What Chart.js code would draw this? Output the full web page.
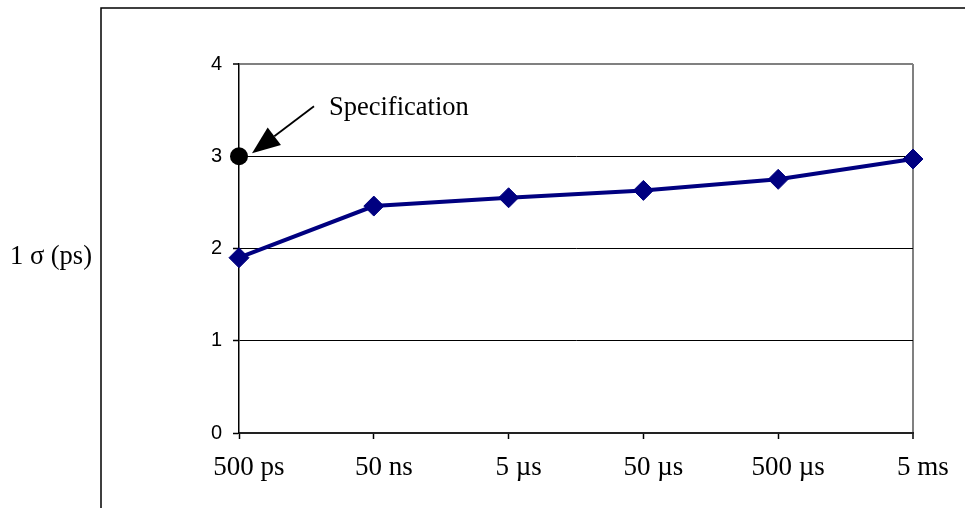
<!DOCTYPE html>
<html>
<head>
<meta charset="utf-8">
<script src="https://cdn.jsdelivr.net/npm/chart.js@4/dist/chart.umd.min.js"></script>
<style>
  html, body { margin: 0; padding: 0; background: #fff; }
  #wrap { width: 965px; height: 508px; position: relative; }
</style>
</head>
<body>
<div id="wrap"><canvas id="chart"></canvas></div>
<script>
const categories = ["500 ps", "50 ns", "5 \u00b5s", "50 \u00b5s", "500 \u00b5s", "5 ms"];
const sigmaValues = [1.9, 2.46, 2.55, 2.63, 2.75, 2.97];
const specValues = [3, null, null, null, null, null];
const specLabel = "Specification";
const yTitle = "1 \u03c3 (ps)";

const serif = '"Liberation Serif", "Times New Roman", serif';
const sans = '"Liberation Sans", Arial, sans-serif';

// frame lines, y title, and the arrow pointing at the spec point
const decorations = {
  id: "decorations",
  beforeDraw(chart) {
    const ctx = chart.ctx;
    ctx.save();
    ctx.strokeStyle = "#000";
    ctx.lineWidth = 1.5;
    ctx.beginPath();
    ctx.moveTo(chart.width, 8);
    ctx.lineTo(101, 8);
    ctx.lineTo(101, chart.height);
    ctx.stroke();

    const y = chart.scales.y;
    ctx.fillStyle = "#000";
    ctx.font = "26.5px " + serif;
    ctx.textAlign = "center";
    ctx.textBaseline = "middle";
    ctx.fillText(yTitle, 51, (y.top + y.bottom) / 2 + 9);
    ctx.restore();
  },
  afterDatasetsDraw(chart) {
    const pt = chart.getDatasetMeta(1).data[0];
    if (!pt) return;
    const ctx = chart.ctx;
    const tipX = pt.x + 13, tipY = pt.y - 3;
    const tailX = pt.x + 75, tailY = pt.y - 50;
    const ang = Math.atan2(tipY - tailY, tipX - tailX);
    const headLen = 28, headW = 11;
    const baseX = tipX - headLen * Math.cos(ang);
    const baseY = tipY - headLen * Math.sin(ang);
    ctx.save();
    ctx.strokeStyle = "#000";
    ctx.fillStyle = "#000";
    ctx.lineWidth = 1.8;
    ctx.beginPath();
    ctx.moveTo(tailX, tailY);
    ctx.lineTo(baseX, baseY);
    ctx.stroke();
    ctx.beginPath();
    ctx.moveTo(tipX, tipY);
    ctx.lineTo(baseX + headW * Math.sin(ang), baseY - headW * Math.cos(ang));
    ctx.lineTo(baseX - headW * Math.sin(ang), baseY + headW * Math.cos(ang));
    ctx.closePath();
    ctx.fill();

    ctx.font = "26.5px " + serif;
    ctx.textAlign = "left";
    ctx.textBaseline = "middle";
    ctx.fillText(specLabel, pt.x + 90, pt.y - 48);
    ctx.restore();
  },
};

new Chart(document.getElementById("chart"), {
  type: "line",
  data: {
    labels: categories,
    datasets: [
      {
        label: "1 sigma",
        data: sigmaValues,
        borderColor: "#000080",
        backgroundColor: "#000080",
        borderWidth: 4,
        pointStyle: "rectRot",
        pointRadius: 10,
        pointBorderWidth: 1,
        tension: 0,
      },
      {
        label: specLabel,
        data: specValues,
        showLine: false,
        borderColor: "#000",
        backgroundColor: "#000",
        pointStyle: "circle",
        pointRadius: 9,
        pointBorderWidth: 0,
      },
    ],
  },
  options: {
    responsive: true,
    maintainAspectRatio: false,
    animation: false,
    layout: { padding: { top: 64, right: 52, left: 0, bottom: 0 } },
    plugins: {
      legend: { display: false },
      tooltip: { enabled: false },
    },
    scales: {
      x: {
        type: "category",
        offset: false,
        afterFit(scale) { scale.height = 75; },
        border: { display: true, color: "#222", width: 2 },
        grid: {
          offset: false,
          color: (c) => (c.index === categories.length - 1 ? "#808080" : "rgba(0,0,0,0)"),
          lineWidth: (c) => (c.index === categories.length - 1 ? 2 : 1),
          tickColor: "#000",
          tickLength: 6,
          tickWidth: 1.5,
        },
        ticks: {
          color: "#000",
          font: { family: serif, size: 27 },
          padding: 13,
          labelOffset: 10,
          maxRotation: 0,
          autoSkip: false,
        },
      },
      y: {
        min: 0,
        max: 4,
        afterFit(scale) { scale.width = 239; },
        border: { display: true, color: "#000", width: 1.5 },
        grid: {
          color: (c) => (c.tick.value === 4 ? "#808080" : "#000"),
          lineWidth: (c) => (c.tick.value === 4 ? 2 : 1),
          tickColor: "#000",
          tickLength: 6,
          tickWidth: 1.5,
        },
        ticks: {
          stepSize: 1,
          color: "#000",
          font: { family: sans, size: 20 },
          padding: 11,
        },
      },
    },
  },
  plugins: [decorations],
});
</script>
</body>
</html>
